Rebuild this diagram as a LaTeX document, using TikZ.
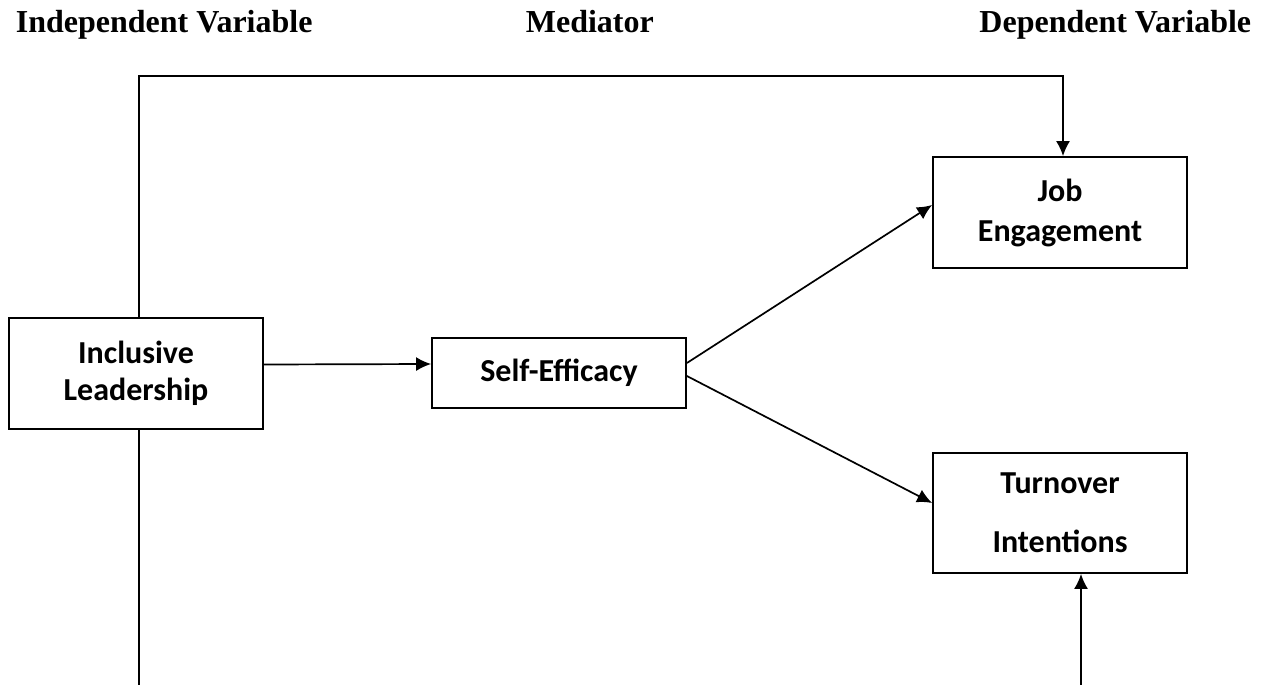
\documentclass[tikz,border=0pt]{standalone}
\usepackage{fontspec}
\setmainfont{Liberation Serif}
\newfontfamily\boxfont{Carlito}
\usetikzlibrary{arrows.meta}
\begin{document}
\begin{tikzpicture}[x=1pt,y=-1pt,line width=1.7pt,
  >={Latex[length=15pt,width=14pt]},
  heading/.style={font=\fontsize{32}{36}\selectfont\bfseries,inner sep=0pt},
  varbox/.style={draw,line width=1.8pt,minimum width=254pt,align=center,
    font=\boxfont\fontsize{32}{37}\selectfont\bfseries}]
  \useasboundingbox (0,0) rectangle (1263,685);
  % column headings
  \node[heading,anchor=base west] (hind) at (15,33) {Independent Variable};
  \node[heading,anchor=base west] (hmed) at (525,33) {Mediator};
  \node[heading,anchor=base east] (hdep) at (1252,33) {Dependent Variable};
  % variables
  \node[varbox,minimum height=111pt] (lead) at (136,373.5) {Inclusive\\Leadership};
  \node[varbox,minimum height=70pt] (self) at (559,373) {Self-Efficacy};
  \node[varbox,minimum height=111pt] (job) at (1060,212.5) {Job\\[3pt]Engagement};
  \node[varbox,minimum height=120pt] (turn) at (1060,513) {Turnover\\[22pt]Intentions};
  % paths
  \coordinate (topbend) at (1063,76);
  \coordinate (leftend) at (139,685);
  \coordinate (rightend) at (1081,685);
  \draw[->] ([yshift=9pt]lead.east) -- ([yshift=9pt]self.west);
  \draw[->] ([yshift=10pt]self.east) -- ([yshift=7.5pt]job.west);
  \draw[->] ([yshift=-3pt]self.east) -- ([yshift=10pt]turn.west);
  \draw[->] ([xshift=3pt]lead.north) |- (topbend) -- ([xshift=3pt]job.north);
  \draw ([xshift=3pt]lead.south) -- (leftend);
  \draw[->] (rightend) -- ([xshift=21pt]turn.south);
\end{tikzpicture}
\end{document}
